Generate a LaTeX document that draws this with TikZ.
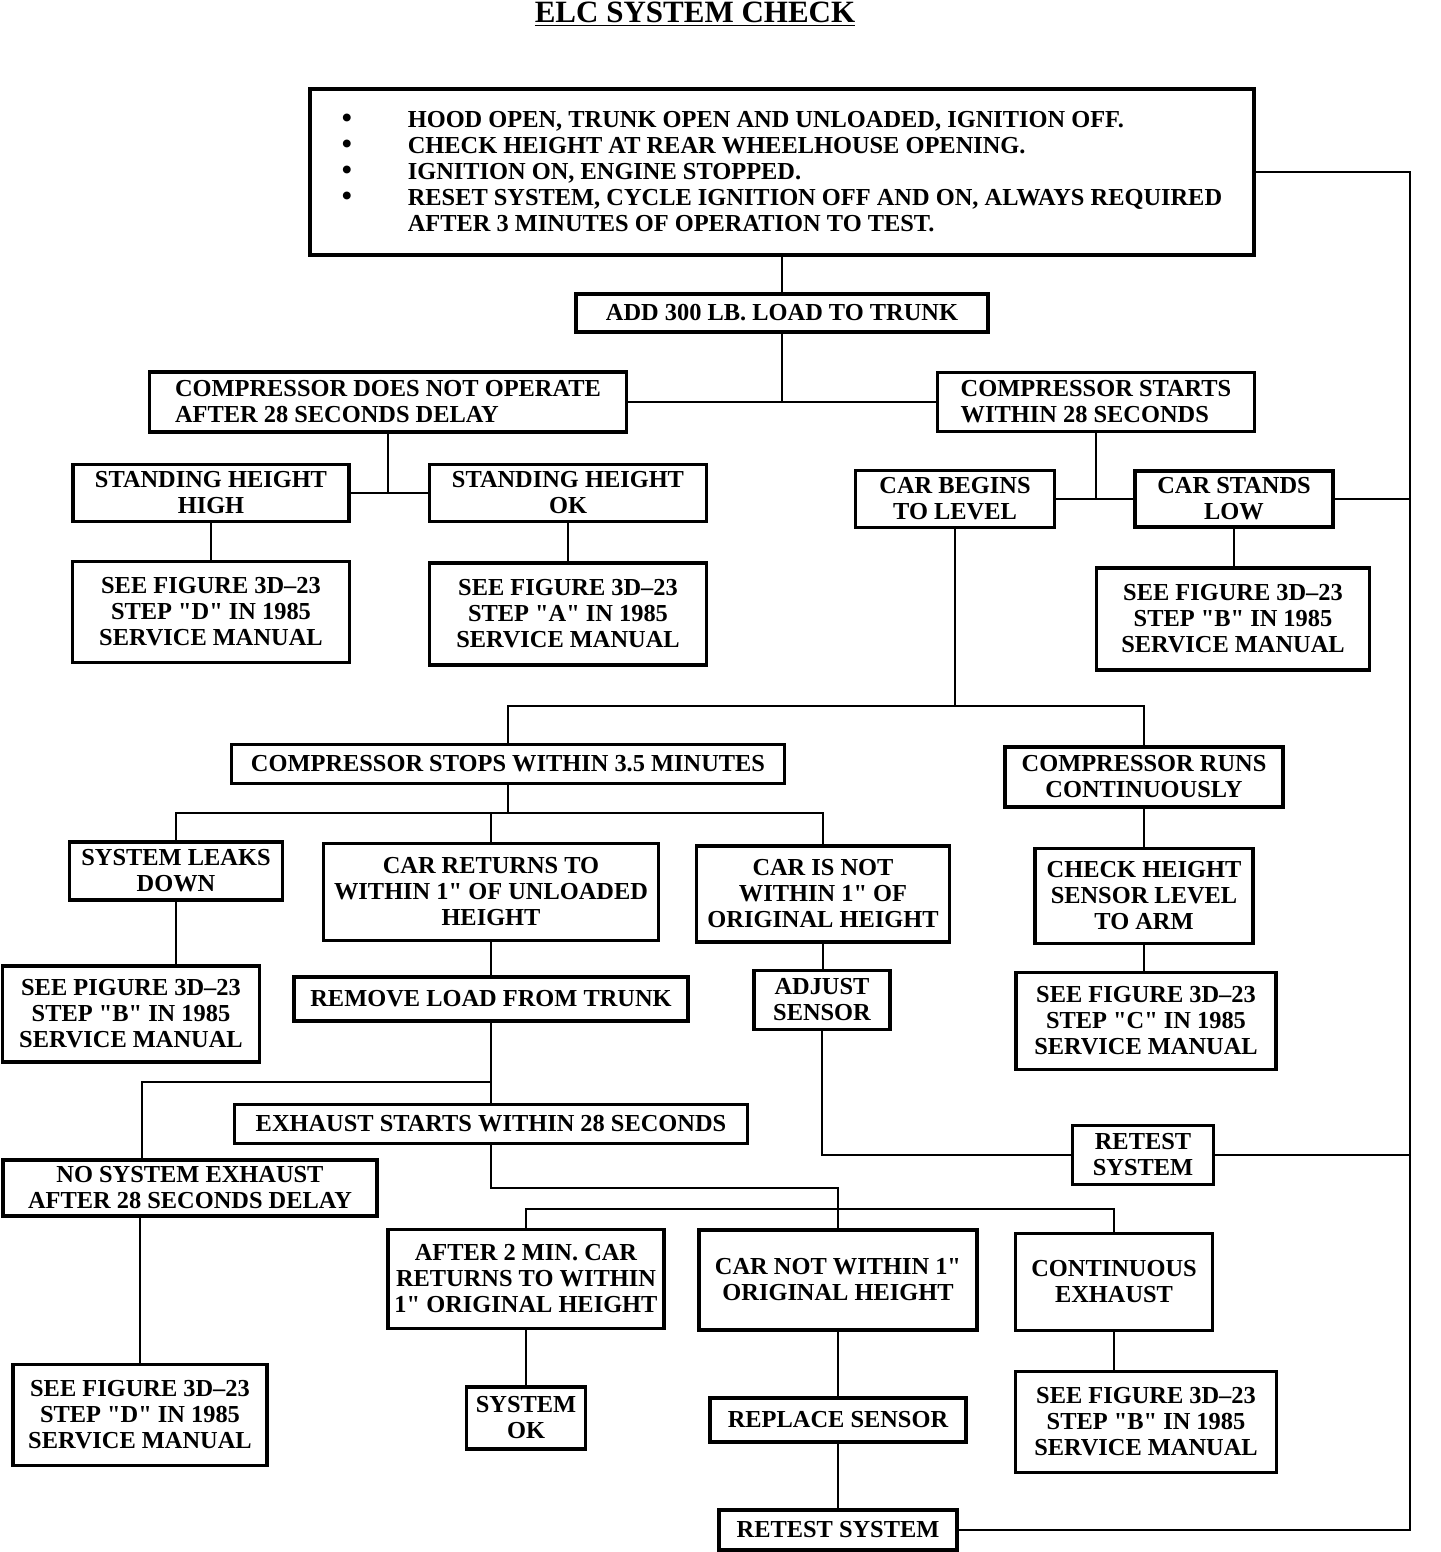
\documentclass[tikz,border=0pt]{standalone}
\usepackage{fontspec}
\setmainfont{Liberation Serif}
\newcommand\dq{\textquotedbl}
\begin{document}
\begin{tikzpicture}[x=0.5pt,y=-0.5pt,line width=1.4pt,
	every node/.style={draw=black,line width=1.8pt,inner sep=0pt,align=center,font=\fontsize{12.2}{13}\selectfont\bfseries},
	sz/.style 2 args={minimum width=#1*0.5pt,minimum height=#2*0.5pt}]
	\useasboundingbox (0,0) rectangle (1440,1552);
	\node[draw=none] (title) at (695,14) {\fontsize{15.5}{18}\selectfont\underline{ELC SYSTEM CHECK}};
	\node[sz={944}{166},align=left] (top) at (782,172) {\makebox[33pt][l]{\Large\textbullet}HOOD OPEN, TRUNK OPEN AND UNLOADED, IGNITION OFF.\\
		\makebox[33pt][l]{\Large\textbullet}CHECK HEIGHT AT REAR WHEELHOUSE OPENING.\\
		\makebox[33pt][l]{\Large\textbullet}IGNITION ON, ENGINE STOPPED.\\
		\makebox[33pt][l]{\Large\textbullet}RESET SYSTEM, CYCLE IGNITION OFF AND ON, ALWAYS REQUIRED\\
		\hspace*{33pt}AFTER 3 MINUTES OF OPERATION TO TEST.};
	\node[sz={412}{38}] (add) at (782,313) {ADD 300 LB. LOAD TO TRUNK};
	\node[sz={477}{60},align=left] (cdno) at (388,402) {COMPRESSOR DOES NOT OPERATE\\AFTER 28 SECONDS DELAY};
	\node[sz={317}{59},align=left] (cstart) at (1096,402) {COMPRESSOR STARTS\\WITHIN 28 SECONDS};
	\node[sz={276}{57}] (shh) at (211,493) {STANDING HEIGHT\\HIGH};
	\node[sz={277}{57}] (shok) at (568,493) {STANDING HEIGHT\\OK};
	\node[sz={277}{101}] (seeD1) at (211,612) {SEE FIGURE 3D--23\\STEP \dq D\dq{} IN 1985\\SERVICE MANUAL};
	\node[sz={277}{102}] (seeA) at (568,614) {SEE FIGURE 3D--23\\STEP \dq A\dq{} IN 1985\\SERVICE MANUAL};
	\node[sz={199}{57}] (cbl) at (955,499) {CAR BEGINS\\TO LEVEL};
	\node[sz={198}{56}] (csl) at (1234,499) {CAR STANDS\\LOW};
	\node[sz={273}{102}] (seeB1) at (1233,619) {SEE FIGURE 3D--23\\STEP \dq B\dq{} IN 1985\\SERVICE MANUAL};
	\node[sz={553}{39}] (csw) at (508,764) {COMPRESSOR STOPS WITHIN 3.5 MINUTES};
	\node[sz={278}{60}] (crc) at (1144,777) {COMPRESSOR RUNS\\CONTINUOUSLY};
	\node[sz={213}{58}] (sld) at (176,871) {SYSTEM LEAKS\\DOWN};
	\node[sz={335}{97}] (crt) at (491,892) {CAR RETURNS TO\\WITHIN 1\dq{} OF UNLOADED\\HEIGHT};
	\node[sz={253}{96}] (cnw) at (823,894) {CAR IS NOT\\WITHIN 1\dq{} OF\\ORIGINAL HEIGHT};
	\node[sz={218}{95}] (chs) at (1144,896) {CHECK HEIGHT\\SENSOR LEVEL\\TO ARM};
	\node[sz={257}{96}] (seeB2) at (131,1014) {SEE PIGURE 3D--23\\STEP \dq B\dq{} IN 1985\\SERVICE MANUAL};
	\node[sz={394}{44}] (rlt) at (491,999) {REMOVE LOAD FROM TRUNK};
	\node[sz={136}{59}] (adj) at (822,1000) {ADJUST\\SENSOR};
	\node[sz={260}{97}] (seeC) at (1146,1021) {SEE FIGURE 3D--23\\STEP \dq C\dq{} IN 1985\\SERVICE MANUAL};
	\node[sz={513}{39}] (esw) at (491,1124) {EXHAUST STARTS WITHIN 28 SECONDS};
	\node[sz={141}{59}] (rt1) at (1143,1155) {RETEST\\SYSTEM};
	\node[sz={374}{56}] (nse) at (190,1188) {NO SYSTEM EXHAUST\\AFTER 28 SECONDS DELAY};
	\node[sz={276}{99}] (a2m) at (526,1279) {AFTER 2 MIN. CAR\\RETURNS TO WITHIN\\1\dq{} ORIGINAL HEIGHT};
	\node[sz={278}{100}] (cnw1) at (838,1280) {CAR NOT WITHIN 1\dq\\ORIGINAL HEIGHT};
	\node[sz={197}{97}] (ce) at (1114,1282) {CONTINUOUS\\EXHAUST};
	\node[sz={254}{101}] (seeD2) at (140,1415) {SEE FIGURE 3D--23\\STEP \dq D\dq{} IN 1985\\SERVICE MANUAL};
	\node[sz={119}{62}] (sok) at (526,1418) {SYSTEM\\OK};
	\node[sz={256}{44}] (rs) at (838,1420) {REPLACE SENSOR};
	\node[sz={261}{101}] (seeB3) at (1146,1422) {SEE FIGURE 3D--23\\STEP \dq B\dq{} IN 1985\\SERVICE MANUAL};
	\node[sz={238}{40}] (rt2) at (838,1530) {RETEST SYSTEM};
	
	\coordinate (j1) at (782,402);
	\coordinate (rail) at (1410,172);
	\coordinate (b2) at (955,706);
	\coordinate (b3) at (508,813);
	\coordinate (b4) at (491,1082);
	\coordinate (b4l) at (142,1082);
	\coordinate (b5) at (491,1188);
	\coordinate (b6) at (838,1209);
	
	\foreach \from/\to in {top/add,shh/seeD1,shok/seeA,csl/seeB1,crc/chs,chs/seeC,sld/seeB2,crt/rlt,rlt/esw,cnw/adj,a2m/sok,cnw1/rs,rs/rt2,ce/seeB3}
	\draw (\from) -- (\from |- \to.north);
	\draw (add) -- (j1);
	\draw (cdno) -- (cstart);
	\draw (cdno) -- (cdno |- shh);
	\draw (shh) -- (shok);
	\draw (cstart) -- (cstart |- cbl);
	\draw (cbl) -- (csl);
	\draw (top) -- (rail) -- (rail |- rt2) -- (rt2);
	\draw (csl) -- (csl -| rail);
	\draw (rt1) -- (rt1 -| rail);
	\draw (cbl) -- (b2);
	\draw (csw) |- (b2) -| (crc);
	\draw (csw) -- (b3);
	\draw (sld) |- (b3) -| (cnw);
	\draw (crt) -- (crt |- b3);
	\draw (adj) |- (rt1);
	\draw (b4) -- (b4l) -- (b4l |- nse.north);
	\draw (seeD2) -- (seeD2 |- nse.south);
	\draw (esw) -- (b5) -| (cnw1);
	\draw (a2m) |- (b6) -| (ce);
\end{tikzpicture}
\end{document}
